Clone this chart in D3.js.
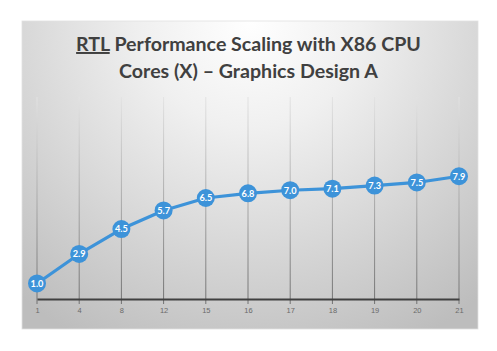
<!DOCTYPE html>
<html><head><meta charset="utf-8">
<script src="https://cdn.jsdelivr.net/npm/d3@7"></script>
<style>html,body{margin:0;padding:0;background:#fff;}svg{display:block;}</style>
</head><body>
<script>
const categories = ["1","4","8","12","15","16","17","18","19","20","21"];
const values = [1.0, 2.9, 4.5, 5.7, 6.5, 6.8, 7.0, 7.1, 7.3, 7.5, 7.9];
const labels = ["1.0","2.9","4.5","5.7","6.5","6.8","7.0","7.1","7.3","7.5","7.9"];
const titleLine1 = ["RTL", " Performance Scaling with X86 CPU"];
const titleLine2 = "Cores (X) \u2013 Graphics Design A";

const W = 497, H = 351;
const svg = d3.select("body").append("svg").attr("width", W).attr("height", H);
const defs = svg.append("defs");
const bg = defs.append("radialGradient").attr("id","bg")
  .attr("gradientUnits","userSpaceOnUse").attr("cx",250).attr("cy",20).attr("r",360)
  .attr("fx",250).attr("fy",20);
bg.append("stop").attr("offset","0%").attr("stop-color","#ffffff");
bg.append("stop").attr("offset","30%").attr("stop-color","#f0f0f0");
bg.append("stop").attr("offset","100%").attr("stop-color","#bdbdbd");
const gg = defs.append("linearGradient").attr("id","grid")
  .attr("gradientUnits","userSpaceOnUse").attr("x1",0).attr("y1",95).attr("x2",0).attr("y2",305);
gg.append("stop").attr("offset","0%").attr("stop-color","#e4e4e4");
gg.append("stop").attr("offset","100%").attr("stop-color","#707070");

svg.append("rect").attr("x",22).attr("y",21).attr("width",456).attr("height",308)
  .attr("fill","url(#bg)").attr("stroke","#e0e0e0").attr("stroke-width",0.8);

const x = d3.scalePoint().domain(categories).range([37, 459]);
const y = d3.scaleLinear().domain([0, 13]).range([299, 97]);

// gridlines
svg.append("g").selectAll("line").data(categories).join("line")
  .attr("x1", d => x(d)).attr("x2", d => x(d))
  .attr("y1", y(13)).attr("y2", y(0) + 5)
  .attr("stroke","url(#grid)").attr("stroke-width",1);

// x axis
const xAxis = d3.axisBottom(x).tickSize(0).tickPadding(9);
const gx = svg.append("g").attr("transform", `translate(0,${y(0)})`).call(xAxis);
gx.select(".domain").attr("stroke","#404040").attr("stroke-width",2.2);
gx.selectAll("text").attr("fill","#6a6a6a").attr("font-family","Liberation Sans, Arial, sans-serif").attr("font-size",7.5);

// line
const line = d3.line().x((d,i) => x(categories[i])).y(d => y(d));
svg.append("path").datum(values).attr("d", line)
  .attr("fill","none").attr("stroke","#3d93d9").attr("stroke-width",3.2).attr("stroke-linejoin","round");

const pts = svg.append("g").selectAll("g").data(values).join("g")
  .attr("transform",(d,i)=>`translate(${x(categories[i])},${y(d)})`);
pts.append("circle").attr("r",9).attr("fill","#3d93d9");
pts.append("text").text((d,i)=>labels[i]).attr("text-anchor","middle").attr("dy","0.36em")
  .attr("fill","#fff").attr("font-family","Lato, Open Sans, sans-serif").attr("font-weight","bold").attr("font-size",9.2);

// title
const tf = "Lato, Open Sans, sans-serif";
const t1 = svg.append("text").attr("x",248.5).attr("y",51).attr("text-anchor","middle")
  .attr("font-family",tf).attr("font-weight","bold").attr("font-size",19.6).attr("fill","#404040")
  .attr("xml:space","preserve");
t1.append("tspan").attr("text-decoration","underline").text(titleLine1[0]);
t1.append("tspan").text(titleLine1[1]);
svg.append("text").attr("x",248.5).attr("y",78).attr("text-anchor","middle")
  .attr("font-family",tf).attr("font-weight","bold").attr("font-size",19.6).attr("fill","#404040")
  .text(titleLine2);
</script>
</body></html>
